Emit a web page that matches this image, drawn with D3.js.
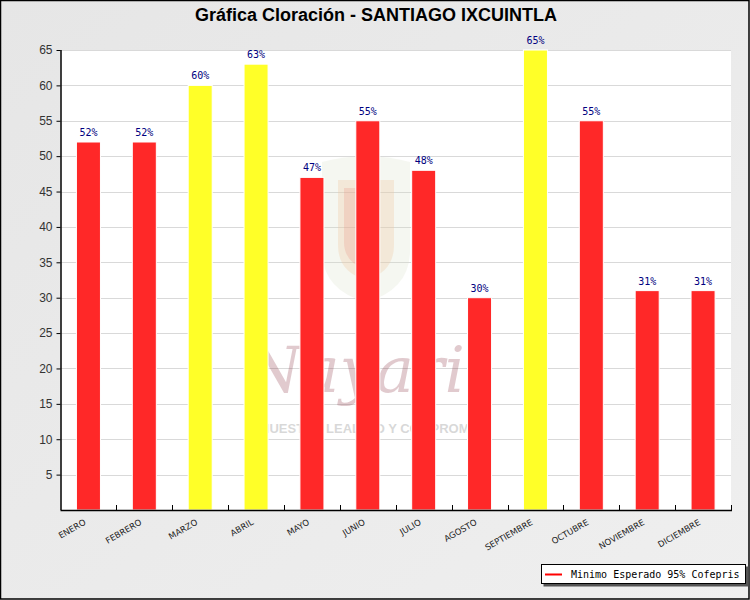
<!DOCTYPE html>
<html>
<head>
<meta charset="utf-8">
<script src="https://cdn.jsdelivr.net/npm/d3@7"></script>
<style>
  body { margin: 0; background: #fff; }
  svg { display: block; }
</style>
</head>
<body>
<div id="chart"></div>
<script>
// Data
const months = ["ENERO", "FEBRERO", "MARZO", "ABRIL", "MAYO", "JUNIO", "JULIO",
                "AGOSTO", "SEPTIEMBRE", "OCTUBRE", "NOVIEMBRE", "DICIEMBRE"];
const cloracion = [52, 52, 60, 63, 47, 55, 48, 30, 65, 55, 31, 31];
const yTicks = [5, 10, 15, 20, 25, 30, 35, 40, 45, 50, 55, 60, 65];
const legendLabel = "Minimo Esperado 95% Cofepris";

const width = 750, height = 600;
const plot = { left: 60.5, right: 731, top: 50, bottom: 510 };

const svg = d3.select("#chart").append("svg")
    .attr("width", width)
    .attr("height", height);

// background gradient
const defs = svg.append("defs");
const grad = defs.append("linearGradient").attr("id", "bg")
    .attr("x1", 0).attr("y1", 0).attr("x2", 1).attr("y2", 1);
grad.append("stop").attr("offset", "0%").attr("stop-color", "#e6e6e6");
grad.append("stop").attr("offset", "100%").attr("stop-color", "#efefef");

svg.append("rect")
    .attr("x", 0.5).attr("y", 0.5)
    .attr("width", width - 1.5).attr("height", height - 1.5)
    .attr("fill", "url(#bg)")
    .attr("stroke", "#000")
    .attr("stroke-width", 1.5);

// Title
svg.append("text")
    .attr("x", 376).attr("y", 21)
    .attr("text-anchor", "middle")
    .style("font-family", "'Liberation Sans', Arial, sans-serif")
    .style("font-weight", "bold")
    .style("font-size", "18px")
    .text("Gráfica Cloración - SANTIAGO IXCUINTLA");

// Scales
const x = d3.scaleBand().domain(months).range([plot.left, plot.right]).paddingInner(0.57).paddingOuter(0.285);
const y = d3.scaleLinear().domain([0, 65]).range([plot.bottom, plot.top]);
const step = (plot.right - plot.left) / months.length;

// plot area
svg.append("rect")
    .attr("x", plot.left).attr("y", plot.top)
    .attr("width", plot.right - plot.left).attr("height", plot.bottom - plot.top)
    .attr("fill", "#fff");

// gridlines
svg.append("g").selectAll("line")
    .data(yTicks)
    .join("line")
    .attr("x1", plot.left).attr("x2", plot.right)
    .attr("y1", d => Math.round(y(d)) + 0.5).attr("y2", d => Math.round(y(d)) + 0.5)
    .attr("stroke", "#d9d9d9");

// watermark (faint logo behind the bars)
const wm = svg.append("g");
wm.append("path")
    .attr("d", "M322,162 Q366,150 410,162 L410,250 Q410,290 366,302 Q322,290 322,250 Z")
    .attr("fill", "#d8e0c8").attr("opacity", 0.25);
wm.append("path")
    .attr("d", "M338,180 L394,180 L394,245 Q394,272 366,280 Q338,272 338,245 Z")
    .attr("fill", "#f0c8a0").attr("opacity", 0.3);
wm.append("path")
    .attr("d", "M344,188 L366,188 L366,270 Q344,262 344,242 Z")
    .attr("fill", "#e89080").attr("opacity", 0.25);
wm.append("text")
    .attr("x", 368).attr("y", 392)
    .attr("text-anchor", "middle")
    .style("font-family", "'DejaVu Serif', serif")
    .style("font-style", "italic")
    .style("font-size", "64px")
    .attr("fill", "#8a3040")
    .attr("opacity", 0.25)
    .text("Nayarit");
wm.append("text")
    .attr("x", 376).attr("y", 433)
    .attr("text-anchor", "middle")
    .style("font-family", "'Liberation Sans', Arial, sans-serif")
    .style("font-weight", "bold")
    .style("font-size", "13px")
    .attr("fill", "#777")
    .attr("opacity", 0.28)
    .text("NUESTRA LEALTAD Y COMPROMISO");

// bars
svg.append("g").selectAll("rect")
    .data(cloracion)
    .join("rect")
    .attr("x", (d, i) => x(months[i]))
    .attr("y", d => y(d))
    .attr("width", x.bandwidth())
    .attr("height", d => y(0) - y(d))
    .attr("fill", d => d >= 60 ? "#ffff28" : "#ff2828")
    .attr("stroke", "#fff")
    .attr("stroke-width", 1);

// value labels
svg.append("g").selectAll("text")
    .data(cloracion)
    .join("text")
    .attr("x", (d, i) => x(months[i]) + x.bandwidth() / 2)
    .attr("y", d => y(d) - 6)
    .attr("text-anchor", "middle")
    .style("font-family", "'DejaVu Sans Mono', monospace")
    .style("font-size", "10px")
    .attr("fill", "#000080")
    .text(d => d + "%");

// y axis
const yAxis = svg.append("g")
    .attr("transform", `translate(${plot.left},0)`)
    .call(d3.axisLeft(y).tickValues(yTicks).tickSize(4).tickPadding(4));
yAxis.select(".domain").attr("d", `M0.5,${plot.top}V${plot.bottom}`).attr("stroke", "#000").attr("stroke-width", 1.5);
yAxis.selectAll("text")
    .style("font-family", "'Liberation Sans', Arial, sans-serif")
    .style("font-size", "12px")
    .attr("fill", "#333");

// x axis
svg.append("line")
    .attr("x1", plot.left).attr("x2", plot.right + 1)
    .attr("y1", plot.bottom + 0.5).attr("y2", plot.bottom + 0.5)
    .attr("stroke", "#000").attr("stroke-width", 1.5);
svg.append("g").selectAll("line")
    .data(months.slice(1).concat(["end"]))
    .join("line")
    .attr("x1", (d, i) => Math.round(plot.left + step * (i + 1)) + 0.5)
    .attr("x2", (d, i) => Math.round(plot.left + step * (i + 1)) + 0.5)
    .attr("y1", plot.bottom).attr("y2", plot.bottom - 5)
    .attr("stroke", "#000");

svg.append("g").selectAll("text")
    .data(months)
    .join("text")
    .attr("transform", d => `translate(${x(d) + x.bandwidth() / 2 - 2},${plot.bottom + 14}) rotate(-30)`)
    .attr("text-anchor", "end")
    .style("font-family", "'DejaVu Sans', sans-serif")
    .style("font-size", "8.5px")
    .attr("fill", "#222")
    .text(d => d);

// legend
const lg = svg.append("g").attr("transform", "translate(541,564)");
lg.append("rect")
    .attr("x", 2.5).attr("y", 2.5).attr("width", 205).attr("height", 20)
    .attr("fill", "#555");
lg.append("rect")
    .attr("x", 0.5).attr("y", 0.5).attr("width", 204).attr("height", 19)
    .attr("fill", "#fff").attr("stroke", "#000");
lg.append("line")
    .attr("x1", 4).attr("x2", 21).attr("y1", 10.5).attr("y2", 10.5)
    .attr("stroke", "#f00").attr("stroke-width", 2);
lg.append("text")
    .attr("x", 30).attr("y", 14)
    .style("font-family", "'DejaVu Sans Mono', monospace")
    .style("font-size", "10px")
    .attr("fill", "#000")
    .text(legendLabel);
</script>
</body>
</html>
